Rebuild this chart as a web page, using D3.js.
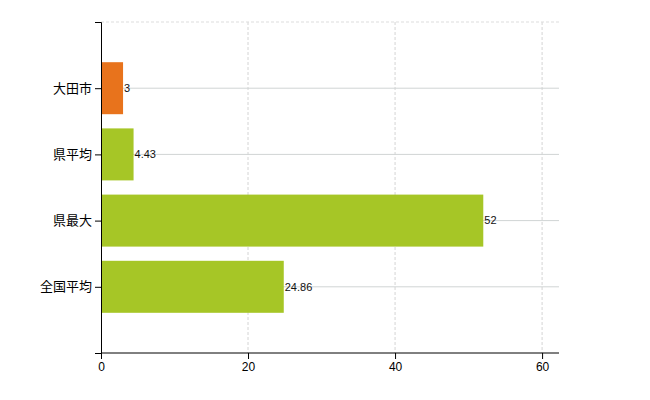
<!DOCTYPE html>
<html><head><meta charset="utf-8">
<script src="https://cdn.jsdelivr.net/npm/d3@7"></script>
<style>body{margin:0;background:#fff}</style>
</head><body><svg id="c" width="650" height="400"></svg>
<script>
const categories = ["大田市", "県平均", "県最大", "全国平均"];
const values = [3, 4.43, 52, 24.86];
const barColors = ["#e8731c", "#a6c626", "#a6c626", "#a6c626"];
const xTicks = [0, 20, 40, 60];

const mLeft = 101, mRight = 559, mTop = 22, mBottom = 353;
const svg = d3.select("#c");
const x = d3.scaleLinear().domain([0, 62.3]).range([mLeft, mRight]);
// categories sit at 1..4 of 5 equal steps
const y = d3.scalePoint().domain(["", ...categories, " "]).range([mTop, mBottom]);
const yc = d => y(d);

// vertical dashed grid
svg.append("g").selectAll("line").data(xTicks.slice(1)).join("line")
  .attr("x1", d => x(d)).attr("x2", d => x(d)).attr("y1", mTop).attr("y2", mBottom)
  .attr("stroke", "#d4d4d4").attr("stroke-dasharray", "3,2");
svg.append("line").attr("x1", mLeft).attr("x2", mRight).attr("y1", mTop).attr("y2", mTop)
  .attr("stroke", "#ddd").attr("stroke-dasharray", "3,2");
// horizontal grid at categories
svg.append("g").selectAll("line").data(categories).join("line")
  .attr("x1", mLeft).attr("x2", mRight).attr("y1", yc).attr("y2", yc)
  .attr("stroke", "#d0d4d4");

// bars
const bh = 52;
svg.append("g").selectAll("rect").data(categories).join("rect")
  .attr("x", mLeft).attr("y", d => yc(d) - bh / 2)
  .attr("width", (d, i) => x(values[i]) - mLeft).attr("height", bh)
  .attr("fill", (d, i) => barColors[i]);
svg.append("g").selectAll("text").data(categories).join("text")
  .attr("x", (d, i) => x(values[i]) + 1).attr("y", yc).attr("dy", "0.35em")
  .attr("font-family", "Arial, Liberation Sans, sans-serif").attr("font-size", 11)
  .attr("fill", "#111").text((d, i) => values[i]);

// axes
const xa = svg.append("g").attr("transform", `translate(0,${mBottom})`)
  .call(d3.axisBottom(x).tickValues(xTicks).tickSizeOuter(0).tickSize(6));
xa.select(".domain").attr("d", `M${mLeft},0H${mRight}`);
xa.selectAll("text").attr("font-family", "Arial, Liberation Sans, sans-serif").attr("font-size", 12);
svg.append("g").attr("transform", `translate(${mLeft},0)`)
  .call(d3.axisLeft(y).tickValues(categories).tickSizeOuter(6))
  .selectAll("text").attr("font-family", "Noto Sans CJK JP, sans-serif").attr("font-size", 13).attr("fill", "#000");
svg.selectAll(".domain").attr("stroke", "#000");
</script></body></html>
